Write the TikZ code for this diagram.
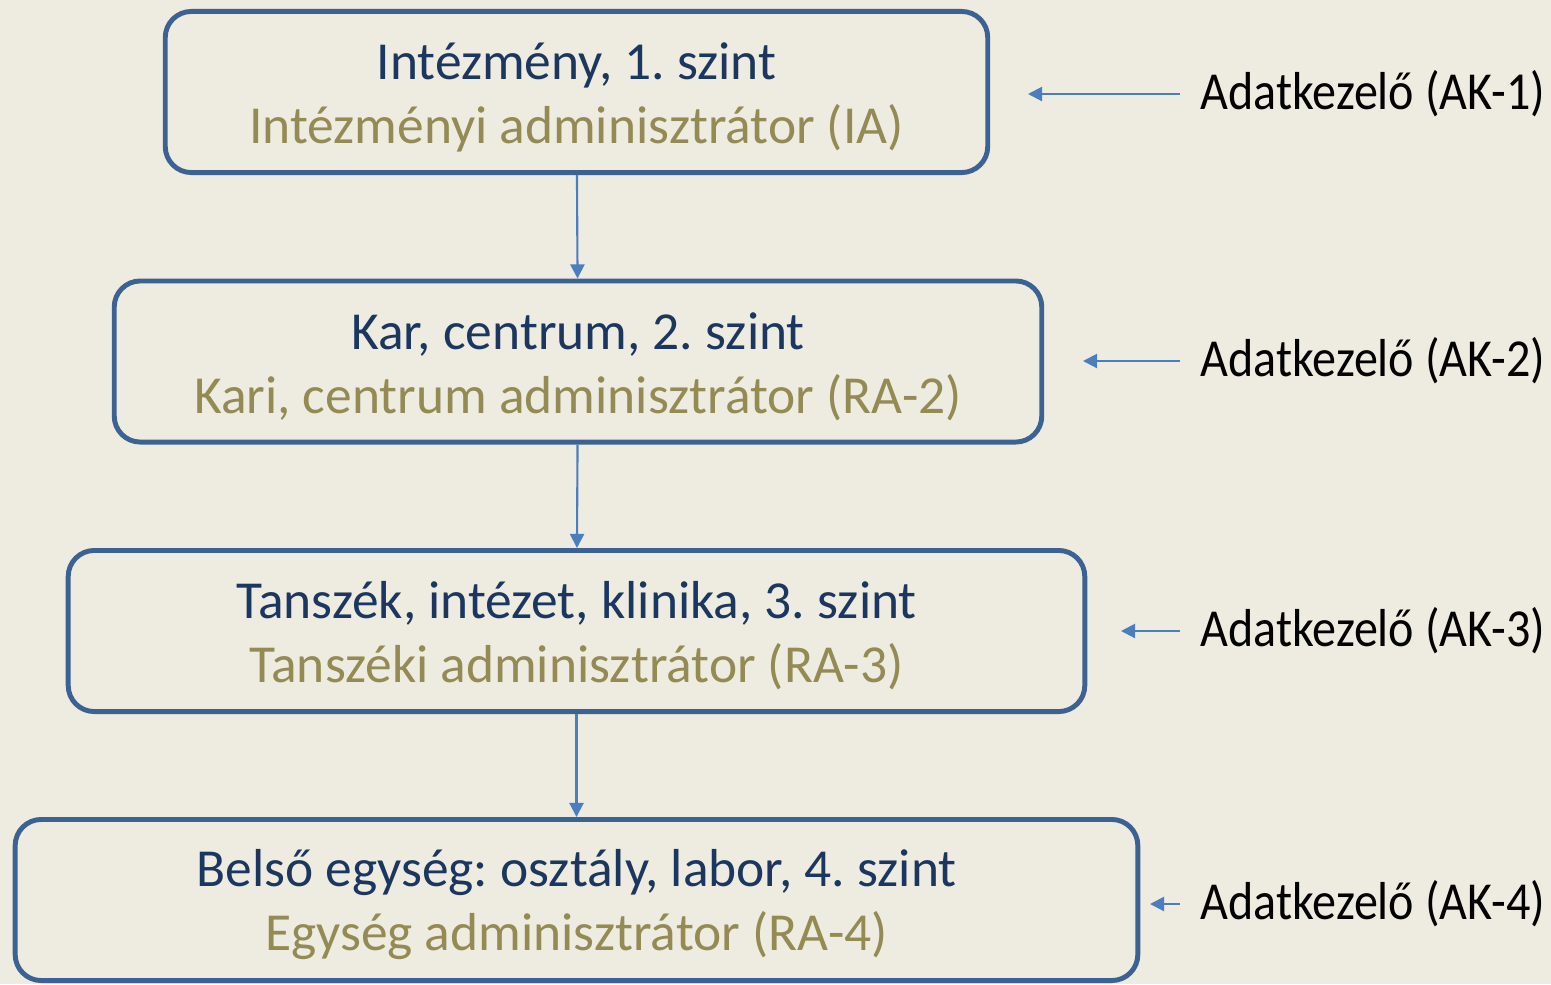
\documentclass[tikz,border=0pt]{standalone}
\usepackage{fontspec}
\setmainfont{Carlito}
\usetikzlibrary{arrows.meta}
\definecolor{bgcol}{HTML}{EEEBE0}
\definecolor{framecol}{HTML}{3C6193}
\definecolor{levelcol}{HTML}{1B375F}
\definecolor{admincol}{HTML}{948A54}
\definecolor{arrowcol}{HTML}{4A7EBF}
\frenchspacing

% two lines of a level box, set a little low
\newcommand{\lvltext}[2]{%
  \raisebox{-0.05cm}[\height][\depth]{\textcolor{levelcol}{#1}}\\
  \raisebox{-0.05cm}[\height][\depth]{\textcolor{admincol}{#2}}}

\tikzset{
  lvlbox/.style={draw=framecol, line width=1.4pt, rounded corners=0.26cm,
    minimum height=1.61cm, align=center, inner sep=0pt,
    font=\fontsize{15.2}{18.2}\selectfont},
  aklabel/.style={anchor=west, inner sep=5.6pt, text=black,
    font=\fontsize{15.2}{18.2}\selectfont},
  conn/.style={arrowcol, line width=0.6pt, ->, >={Triangle[length=4pt,width=4pt]}}
}

\begin{document}
\begin{tikzpicture}[x=0.01cm, y=-0.01cm]
\fill[bgcol] (0,0) rectangle (1551,984);
\useasboundingbox (0,0) rectangle (1551,984);

% levels
\node[lvlbox, minimum width=8.22cm] (box1) at (576.5,92)
  {\lvltext{Intézmény, 1. szint}{Intézményi adminisztrátor (IA)}};
\node[lvlbox, minimum width=9.27cm] (box2) at (578,361.5)
  {\lvltext{Kar, centrum, 2. szint}{Kari, centrum adminisztrátor (RA-2)}};
\node[lvlbox, minimum width=10.16cm] (box3) at (576.5,631)
  {\lvltext{Tanszék, intézet, klinika, 3. szint}{Tanszéki adminisztrátor (RA-3)}};
\node[lvlbox, minimum width=11.22cm] (box4) at (576.5,900)
  {\lvltext{Belső egység: osztály, labor, 4. szint}{Egység adminisztrátor (RA-4)}};

\draw[conn] (box1) -- (box2);
\draw[conn] (box2) -- (box3);
\draw[conn] (box3) -- (box4);

% data handlers
\foreach \i/\y/\tx in {1/94/1028, 2/361/1083, 3/631/1121, 4/904/1150} {
  \node[aklabel] (ak\i) at (1180,\y) {\scalebox{0.9}[1]{Adatkezelő (AK-\i)}};
  \coordinate (t\i) at (\tx,\y);
  \draw[conn] (ak\i.west) -- (t\i);
}

\end{tikzpicture}
\end{document}
